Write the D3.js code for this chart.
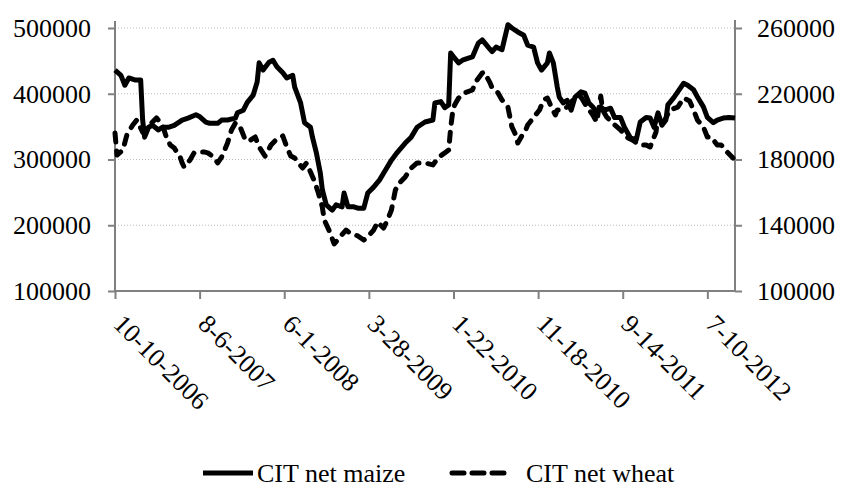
<!DOCTYPE html>
<html>
<head>
<meta charset="utf-8">
<script src="https://cdn.jsdelivr.net/npm/d3@7"></script>
<style>
  body { margin: 0; background: #fff; }
  text { font-family: "Liberation Serif", "Times New Roman", serif; fill: #000; }
</style>
</head>
<body>
<div id="chart"></div>
<script>
// weekly CIT positions, week 0 = 10-10-2006
const startDate = "2006-10-10"
const lastWeek = 314
const tickDates = ["2006-10-10", "2007-08-06", "2008-06-01", "2009-03-28", "2010-01-22", "2010-11-18", "2011-09-14", "2012-07-10"]
const leftTicks = [100000, 200000, 300000, 400000, 500000]
const rightTicks = [100000, 140000, 180000, 220000, 260000]
const gridValues = [200000, 300000, 400000, 500000]
const seriesNames = ["CIT net maize", "CIT net wheat"]

// [week, contracts] - left axis
const maize = [
  [0,436000],[3,428000],[5,413000],[7,424000],[10,421000],[13,421000],[14,360000],[15,334000],
  [17,349000],[19,352000],[22,345000],[24,349000],[27,349000],[30,352000],[34,360000],[37,363000],
  [41,368000],[43,365000],[46,357000],[48,355000],[52,355000],[54,360000],[57,360000],[61,363000],
  [62,371000],[65,375000],[67,387000],[70,398000],[72,418000],[73,447000],[75,436000],[78,448000],
  [80,451000],[82,441000],[85,432000],[87,424000],[90,428000],[91,410000],[94,386000],[96,356000],
  [99,349000],[100,334000],[102,310000],[104,279000],[105,254000],[107,231000],[110,223000],[112,231000],
  [115,228000],[116,249000],[118,228000],[121,228000],[123,226000],[126,226000],[128,249000],[131,258000],
  [134,269000],[137,284000],[140,299000],[143,311000],[147,325000],[150,334000],[153,349000],[157,357000],
  [161,360000],[162,386000],[165,388000],[167,379000],[169,383000],[170,462000],[172,454000],[174,447000],
  [176,451000],[179,454000],[181,456000],[184,477000],[186,482000],[189,471000],[191,464000],[193,471000],
  [196,467000],[199,505000],[201,500000],[204,494000],[207,489000],[209,474000],[212,471000],[214,447000],
  [216,436000],[219,447000],[220,462000],[222,447000],[224,410000],[225,395000],[227,386000],[229,390000],
  [231,375000],[233,395000],[236,403000],[238,401000],[240,386000],[242,380000],[244,371000],[246,380000],
  [248,375000],[251,378000],[253,364000],[256,364000],[258,349000],[261,333000],[264,330000],[266,357000],
  [269,364000],[271,363000],[273,349000],[275,371000],[277,352000],[279,360000],[280,383000],[283,394000],
  [285,403000],[288,416000],[290,413000],[293,406000],[295,395000],[298,380000],[300,364000],[303,356000],
  [305,360000],[308,363000],[311,364000],[314,363000]
]

// [week, contracts] - right axis
const wheat = [
  [0,196100],[1,182700],[4,185800],[6,194900],[9,201000],[11,204000],[14,196700],[16,199200],
  [19,202800],[21,205300],[24,201000],[26,193700],[28,188800],[30,187000],[33,181500],[34,177900],
  [35,175400],[38,179700],[40,184000],[42,184600],[45,184600],[47,184000],[50,181500],[52,177900],
  [54,181500],[57,190000],[59,198000],[61,202200],[63,201000],[66,191900],[68,191300],[71,193700],
  [73,187600],[76,182100],[79,188800],[81,191300],[85,194300],[87,187600],[89,182100],[91,180900],
  [95,174800],[97,177900],[99,172400],[101,166900],[103,159600],[105,151100],[106,143200],[109,135300],
  [111,128600],[114,132900],[117,137100],[119,135300],[123,133500],[126,131000],[128,132900],[131,137100],
  [133,142000],[136,138300],[138,143200],[140,149300],[142,161400],[144,165700],[147,169400],[150,174800],
  [153,177900],[157,177900],[161,176700],[164,181500],[167,184000],[169,185800],[170,199200],[171,208900],
  [172,213200],[174,217400],[177,220500],[181,222300],[183,227800],[186,232600],[187,233200],[190,226500],
  [191,223500],[194,220500],[196,216200],[199,211900],[200,205900],[201,199800],[203,194900],[204,190000],
  [206,194300],[208,198000],[209,201000],[211,204000],[213,207100],[215,210100],[217,216200],[219,217400],
  [221,211900],[223,207100],[224,210100],[226,210100],[229,211900],[232,216200],[236,218000],[239,211900],
  [242,207100],[244,202800],[246,218600],[247,210100],[249,205900],[252,202200],[256,198000],[259,193700],
  [262,191900],[266,188800],[269,188800],[271,187600],[274,196700],[275,207100],[277,201000],[279,205300],
  [281,210100],[285,211900],[288,217400],[291,215600],[293,210100],[295,204000],[298,199800],[300,193700],
  [302,193700],[305,188800],[307,188800],[310,184600],[313,180900]
]

const width = 841
const height = 494
const margin = { top: 28, right: 106, bottom: 203, left: 115 }

const parse = d3.utcParse("%Y-%m-%d")
const fmt = d3.utcFormat("%-m-%-d-%Y")
const start = parse(startDate)
const weekDate = w => d3.utcDay.offset(start, w * 7)

const svg = d3.select("#chart")
  .append("svg")
  .attr("width", width)
  .attr("height", height)

const x = d3.scaleUtc()
  .domain([start, weekDate(lastWeek)])
  .range([margin.left, width - margin.right])

const yL = d3.scaleLinear()
  .domain([100000, 500000])
  .range([height - margin.bottom, margin.top])

const yR = d3.scaleLinear()
  .domain([100000, 260000])
  .range([height - margin.bottom, margin.top])

const axisGray = "#808080"

// gridlines
svg.append("g")
  .selectAll("line")
  .data(gridValues)
  .enter().append("line")
  .attr("x1", margin.left)
  .attr("x2", width - margin.right)
  .attr("y1", d => yL(d))
  .attr("y2", d => yL(d))
  .attr("stroke", "#bdbdbd")
  .attr("stroke-width", 1)
  .attr("stroke-dasharray", "1,2")

// left axis
const gL = svg.append("g")
  .attr("transform", `translate(${margin.left},0)`)
  .call(d3.axisLeft(yL).tickValues(leftTicks).tickSize(7).tickPadding(17).tickFormat(d3.format("d")))
gL.select(".domain").remove()
gL.append("line")
  .attr("y1", yL(100000)).attr("y2", margin.top - 7)
  .attr("stroke", axisGray).attr("stroke-width", 2)

// right axis
const gR = svg.append("g")
  .attr("transform", `translate(${width - margin.right},0)`)
  .call(d3.axisRight(yR).tickValues(rightTicks).tickSize(7).tickPadding(15).tickFormat(d3.format("d")))
gR.select(".domain").remove()
gR.append("line")
  .attr("y1", yR(100000)).attr("y2", margin.top - 8)
  .attr("stroke", axisGray).attr("stroke-width", 2)

svg.selectAll(".tick line").attr("stroke", axisGray).attr("stroke-width", 2)
svg.selectAll(".tick text").style("font-size", "26px").attr("fill", "#000")

// bottom axis
const gX = svg.append("g")
  .attr("transform", `translate(0,${height - margin.bottom})`)
  .call(d3.axisBottom(x).tickValues(tickDates.map(parse)).tickSize(8).tickFormat(""))
gX.select(".domain").remove()
gX.append("line")
  .attr("x1", margin.left).attr("x2", width - margin.right)
  .attr("stroke", axisGray).attr("stroke-width", 2)
gX.selectAll(".tick line").attr("stroke", axisGray).attr("stroke-width", 2)
gX.selectAll(".tick")
  .append("text")
  .attr("transform", "translate(3,28) rotate(45)")
  .attr("dy", "0.35em")
  .style("text-anchor", "start")
  .style("font-size", "26px")
  .text(d => fmt(d))

// lines
const lineL = d3.line().x(d => x(weekDate(d[0]))).y(d => yL(d[1]))
const lineR = d3.line().x(d => x(weekDate(d[0]))).y(d => yR(d[1]))

svg.append("path")
  .datum(wheat)
  .attr("d", lineR)
  .attr("fill", "none")
  .attr("stroke", "#000")
  .attr("stroke-width", 5)
  .attr("stroke-linecap", "round")
  .attr("stroke-linejoin", "round")
  .attr("stroke-dasharray", "9,9")

svg.append("path")
  .datum(maize)
  .attr("d", lineL)
  .attr("fill", "none")
  .attr("stroke", "#000")
  .attr("stroke-width", 5)
  .attr("stroke-linejoin", "round")

// legend
const legend = svg.append("g").attr("transform", "translate(0,473)")
legend.append("line")
  .attr("x1", 203).attr("x2", 253)
  .attr("stroke", "#000").attr("stroke-width", 5)
legend.append("text")
  .attr("x", 257).attr("y", 9)
  .style("font-size", "26px")
  .text(seriesNames[0])
legend.append("line")
  .attr("x1", 452).attr("x2", 510)
  .attr("stroke", "#000").attr("stroke-width", 5)
  .attr("stroke-linecap", "round")
  .attr("stroke-dasharray", "12,8")
legend.append("text")
  .attr("x", 526).attr("y", 9)
  .style("font-size", "26px")
  .text(seriesNames[1])
</script>
</body>
</html>
